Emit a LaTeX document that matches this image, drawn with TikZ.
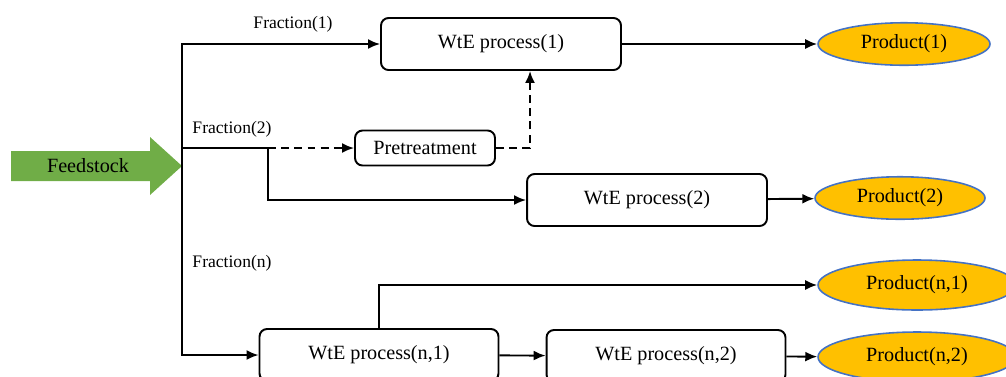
\documentclass[tikz,border=0pt]{standalone}
\usepackage{fontspec}
\setmainfont{Liberation Serif}
\usetikzlibrary{arrows.meta, shapes.geometric, positioning}

\definecolor{feedgreen}{RGB}{112,173,71}
\definecolor{prodgold}{RGB}{255,192,0}
\definecolor{prodblue}{RGB}{68,114,196}

\begin{document}
\begin{tikzpicture}[x=0.02cm, y=-0.02cm, font=\fontsize{11.5}{13}\selectfont,
    box/.style={draw, line width=1.1pt, rounded corners=0.15cm, minimum width=4.8cm, minimum height=1.04cm},
    pbox/.style={box, minimum width=2.8cm, minimum height=0.7cm},
    product/.style={ellipse, draw=prodblue, fill=prodgold, line width=0.9pt, minimum width=3.44cm, minimum height=0.8cm},
    frac/.style={font=\fontsize{10}{12}\selectfont},
    flow/.style={-{Latex[length=2.4mm,width=2mm]}, line width=1.1pt},
    dashflow/.style={flow, dash pattern=on 4.5pt off 3pt}]
                    \useasboundingbox (0,0) rectangle (1006,376);

                    % feedstock arrow
                    \fill [feedgreen] (11,151) -- (150,151) -- (150,137) -- (182,166)
                        -- (150,195) -- (150,181) -- (11,181) -- cycle;
                    \node (feed) at (88,166) {Feedstock};
                    \coordinate (split) at (182,166);
                    \coordinate (f2) at (268,148);
                    \coordinate (up) at (530,148);

                    \node (wte1) [box] at (501,44) {WtE process(1)};
                    \node (pre) [pbox] at (425,148) {Pretreatment};
                    \node (wte2) [box] at (647,200) {WtE process(2)};
                    \node (wten1) [box, minimum width=4.78cm] at (379,355) {WtE process(n,1)};
                    \node (wten2) [box, minimum width=4.78cm] at (666,356) {WtE process(n,2)};

                    \node (prod1) [product] at (904,44) {Product(1)};
                    \node (prod2) [product, minimum width=3.4cm] at (900,198) {Product(2)};
                    \node (prodn1) [product, minimum width=3.96cm, minimum height=1cm] at (917,285) {Product(n,1)};
                    \node (prodn2) [product, minimum width=3.96cm, minimum height=1cm] at (917,357) {Product(n,2)};

                    \node (frac1) [frac] at (293,24) {Fraction(1)};
                    \node (frac2) [frac] at (232,129) {Fraction(2)};
                    \node (fracn) [frac] at (232,263) {Fraction(n)};

                    \draw [flow] (split) |- (wte1.west);
                    \draw [flow] (split) |- (wten1.west);
                    \draw [line width=1.1pt] (split |- f2) -- (f2);
                    \draw [dashflow] (f2) -- (pre.west);
                    \draw [dashflow] (pre.east) -- (up) -- (up |- wte1.south);
                    \draw [flow] (f2) |- (wte2.west);
                    \draw [flow] (wten1.north) |- (prodn1.west);

                    \path [flow]
                        (wte1) edge (prod1)
                        (wte2) edge (prod2)
                        (wten1) edge (wten2)
                        (wten2) edge (prodn2);
                \end{tikzpicture}
\end{document}
